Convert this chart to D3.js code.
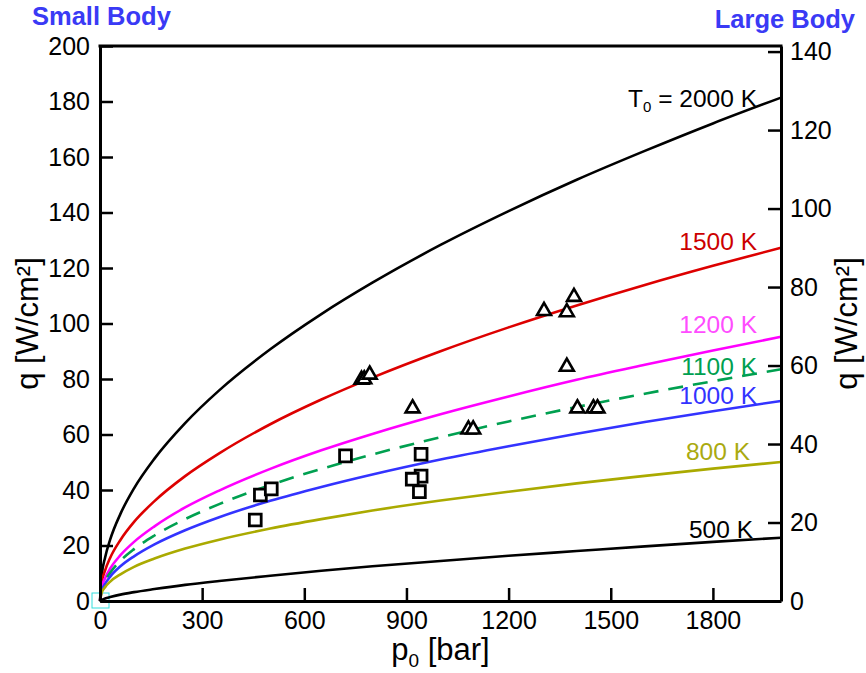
<!DOCTYPE html>
<html>
<head>
<meta charset="utf-8">
<script src="https://cdn.jsdelivr.net/npm/d3@7"></script>
<style>
  html, body { margin: 0; padding: 0; background: #fff; }
  svg { display: block; font-family: "Liberation Sans", Arial, Helvetica, sans-serif; }
</style>
</head>
<body>
<svg id="chart" width="866" height="673"></svg>
<script>
// Stagnation pressure p0 [bar] sampled along every heat-flux curve
const pressure = [0, 5, 15, 30, 60, 100, 160, 250, 350, 500, 650, 800, 1000, 1200, 1400, 1600, 1800, 2000];

// Heat flux q [W/cm²] (small-body scale) for each stagnation temperature T0
const q2000K = [0, 9.1, 15.7, 22.2, 31.4, 40.6, 51.3, 64.1, 75.9, 90.7, 103.4, 114.7, 128.3, 140.5, 151.8, 162.2, 172.1, 181.4];
const q1500K = [0, 6.4, 11.0, 15.6, 22.0, 28.5, 36.0, 45.0, 53.2, 63.7, 72.6, 80.5, 90.0, 98.6, 106.5, 113.9, 120.8, 127.3];
const q1200K = [0, 4.8, 8.2, 11.7, 16.5, 21.3, 26.9, 33.7, 39.8, 47.6, 54.3, 60.2, 67.3, 73.7, 79.7, 85.1, 90.3, 95.2];
const q1100K = [0, 4.2, 7.2, 10.2, 14.5, 18.7, 23.6, 29.5, 34.9, 41.8, 47.6, 52.8, 59.0, 64.7, 69.9, 74.7, 79.2, 83.5];
const q1000K = [0, 3.6, 6.2, 8.8, 12.5, 16.1, 20.4, 25.5, 30.2, 36.1, 41.1, 45.6, 51.0, 55.8, 60.3, 64.5, 68.4, 72.1];
const q800K  = [0, 3.0, 5.0, 7.0, 9.6, 12.3, 15.3, 18.9, 22.1, 26.1, 29.5, 32.6, 36.2, 39.4, 42.4, 45.1, 47.7, 50.1];
const q500K  = [0, 0.4, 0.9, 1.4, 2.3, 3.2, 4.3, 5.8, 7.2, 9.1, 10.9, 12.5, 14.4, 16.3, 18.0, 19.7, 21.3, 22.8];

// Curve names as printed next to each curve
const curveNames = ["2000 K", "1500 K", "1200 K", "1100 K", "1000 K", "800 K", "500 K"];

// Small-body measurements (left axis): pressure [bar], heat flux [W/cm²]
const smallP = [456, 471, 503, 721, 943, 943, 917, 938];
const smallQ = [29.2, 38.2, 40.4, 52.3, 52.9, 45.0, 43.9, 39.4];

// Large-body measurements (right axis): pressure [bar], heat flux [W/cm²]
const largeP = [768, 776, 792, 918, 1082, 1096, 1304, 1371, 1392, 1371, 1402, 1449, 1461];
const largeQ = [56.4, 56.5, 57.7, 49.1, 43.7, 43.7, 73.9, 73.6, 77.5, 59.7, 49.1, 49.1, 49.1];

// Axis ticks
const xTicks = [0, 300, 600, 900, 1200, 1500, 1800];
const yLeftTicks = [0, 20, 40, 60, 80, 100, 120, 140, 160, 180, 200];
const yRightTicks = [0, 20, 40, 60, 80, 100, 120, 140];

// ---- drawing ----
const svg = d3.select("#chart");
const L = 100, R = 781, T = 46, B = 601;

const x = d3.scaleLinear().domain([0, 2000]).range([L, R]);
const yL = d3.scaleLinear().domain([0, 200]).range([B, T]);
// large-body scale: q_large = q_small / sqrt(2)
const yR = d3.scaleLinear().domain([0, 200 / Math.SQRT2]).range([B, T]);

const curveSeries = [q2000K, q1500K, q1200K, q1100K, q1000K, q800K, q500K];
const curveStyle = [
  { stroke: "#000000", text: "#000000", dash: null,    dy: 9 },
  { stroke: "#dd0000", text: "#cc0000", dash: null,    dy: 2 },
  { stroke: "#ff00ff", text: "#ff4dff", dash: null,    dy: -4 },
  { stroke: "#00a050", text: "#00a050", dash: "15,10", dy: 6 },
  { stroke: "#3333ff", text: "#3333ff", dash: null,    dy: 3 },
  { stroke: "#aaaa00", text: "#aaaa10", dash: null,    dy: -2 },
  { stroke: "#000000", text: "#000000", dash: null,    dy: 0 }
];

const line = d3.line()
  .x((d, i) => x(pressure[i]))
  .y(d => yL(d))
  .curve(d3.curveMonotoneX);

// marker at the origin
svg.append("rect")
  .attr("x", x(0) - 8).attr("y", yL(0) - 8)
  .attr("width", 17).attr("height", 15)
  .attr("fill", "none").attr("stroke", "#33dddd").attr("stroke-width", 1);

const curves = svg.append("g");
curveSeries.forEach((s, k) => {
  curves.append("path")
    .attr("d", line(s))
    .attr("fill", "none")
    .attr("stroke", curveStyle[k].stroke)
    .attr("stroke-width", 2.6)
    .attr("stroke-dasharray", curveStyle[k].dash);
});

// curve labels
const labels = svg.append("g").attr("font-size", 24.5).attr("text-anchor", "end");
curveSeries.forEach((s, k) => {
  const t = labels.append("text")
    .attr("x", k === 5 ? 750 : (k === 6 ? 753 : 757))
    .attr("y", yL(s[s.length - 1]) + curveStyle[k].dy)
    .attr("fill", curveStyle[k].text);
  if (k === 0) {
    t.append("tspan").text("T");
    t.append("tspan").attr("font-size", 15).attr("dy", 5).text("0");
    t.append("tspan").attr("dy", -5).text(" = " + curveNames[k]);
  } else {
    t.text(curveNames[k]);
  }
});

// axes
function styleAxis(g) {
  g.selectAll("path.domain").attr("stroke", "#000").attr("stroke-width", 3);
  g.selectAll(".tick line").attr("stroke", "#000").attr("stroke-width", 2.5);
  g.selectAll(".tick text").attr("fill", "#000").attr("font-size", 25)
    .attr("font-family", "Liberation Sans, Arial, sans-serif");
}

const fmt = d3.format("d");

svg.append("g").attr("transform", `translate(0,${B})`)
  .call(d3.axisBottom(x).tickValues(xTicks).tickFormat(fmt).tickSizeInner(-13).tickSizeOuter(0).tickPadding(10))
  .call(styleAxis);

svg.append("g").attr("transform", `translate(${L},0)`)
  .call(d3.axisLeft(yL).tickValues(yLeftTicks).tickFormat(fmt).tickSizeInner(-13).tickSizeOuter(0).tickPadding(10))
  .call(styleAxis);

svg.append("g").attr("transform", `translate(${R},0)`)
  .call(d3.axisRight(yR).tickValues(yRightTicks).tickFormat(fmt).tickSizeInner(-13).tickSizeOuter(0).tickPadding(9))
  .call(styleAxis);

// top frame line
svg.append("line")
  .attr("x1", L - 1.5).attr("x2", R + 1.5).attr("y1", T).attr("y2", T)
  .attr("stroke", "#000").attr("stroke-width", 3);

// measurements
const sq = d3.symbol().type(d3.symbolSquare).size(140);
svg.append("g").selectAll("path").data(smallP).join("path")
  .attr("d", sq)
  .attr("transform", (d, i) => `translate(${x(d)},${yL(smallQ[i])})`)
  .attr("fill", "#fff").attr("stroke", "#000").attr("stroke-width", 2.8);

const tri = d3.symbol().type(d3.symbolTriangle).size(84);
svg.append("g").selectAll("path").data(largeP).join("path")
  .attr("d", tri)
  .attr("transform", (d, i) => `translate(${x(d)},${yR(largeQ[i])})`)
  .attr("fill", "#fff").attr("stroke", "#000").attr("stroke-width", 2.6)
  .attr("stroke-linejoin", "miter");

// axis titles
svg.append("text")
  .attr("transform", `translate(${(L + R) / 2},660)`)
  .attr("text-anchor", "middle").attr("font-size", 31)
  .call(t => {
    t.append("tspan").text("p");
    t.append("tspan").attr("font-size", 19).attr("dy", 7).text("0");
    t.append("tspan").attr("dy", -7).text(" [bar]");
  });

svg.append("text")
  .attr("transform", `translate(38,${(T + B) / 2}) rotate(-90)`)
  .attr("text-anchor", "middle").attr("font-size", 31)
  .text("q [W/cm²]");

svg.append("text")
  .attr("transform", `translate(857,${(T + B) / 2}) rotate(-90)`)
  .attr("text-anchor", "middle").attr("font-size", 31)
  .text("q [W/cm²]");

// body-size captions
svg.append("text").attr("x", 32).attr("y", 25)
  .attr("font-size", 25.5).attr("font-weight", "bold").attr("fill", "#3a3af5")
  .text("Small Body");
svg.append("text").attr("x", 855).attr("y", 28).attr("text-anchor", "end")
  .attr("font-size", 25.5).attr("font-weight", "bold").attr("fill", "#3a3af5")
  .text("Large Body");
</script>
</body>
</html>
